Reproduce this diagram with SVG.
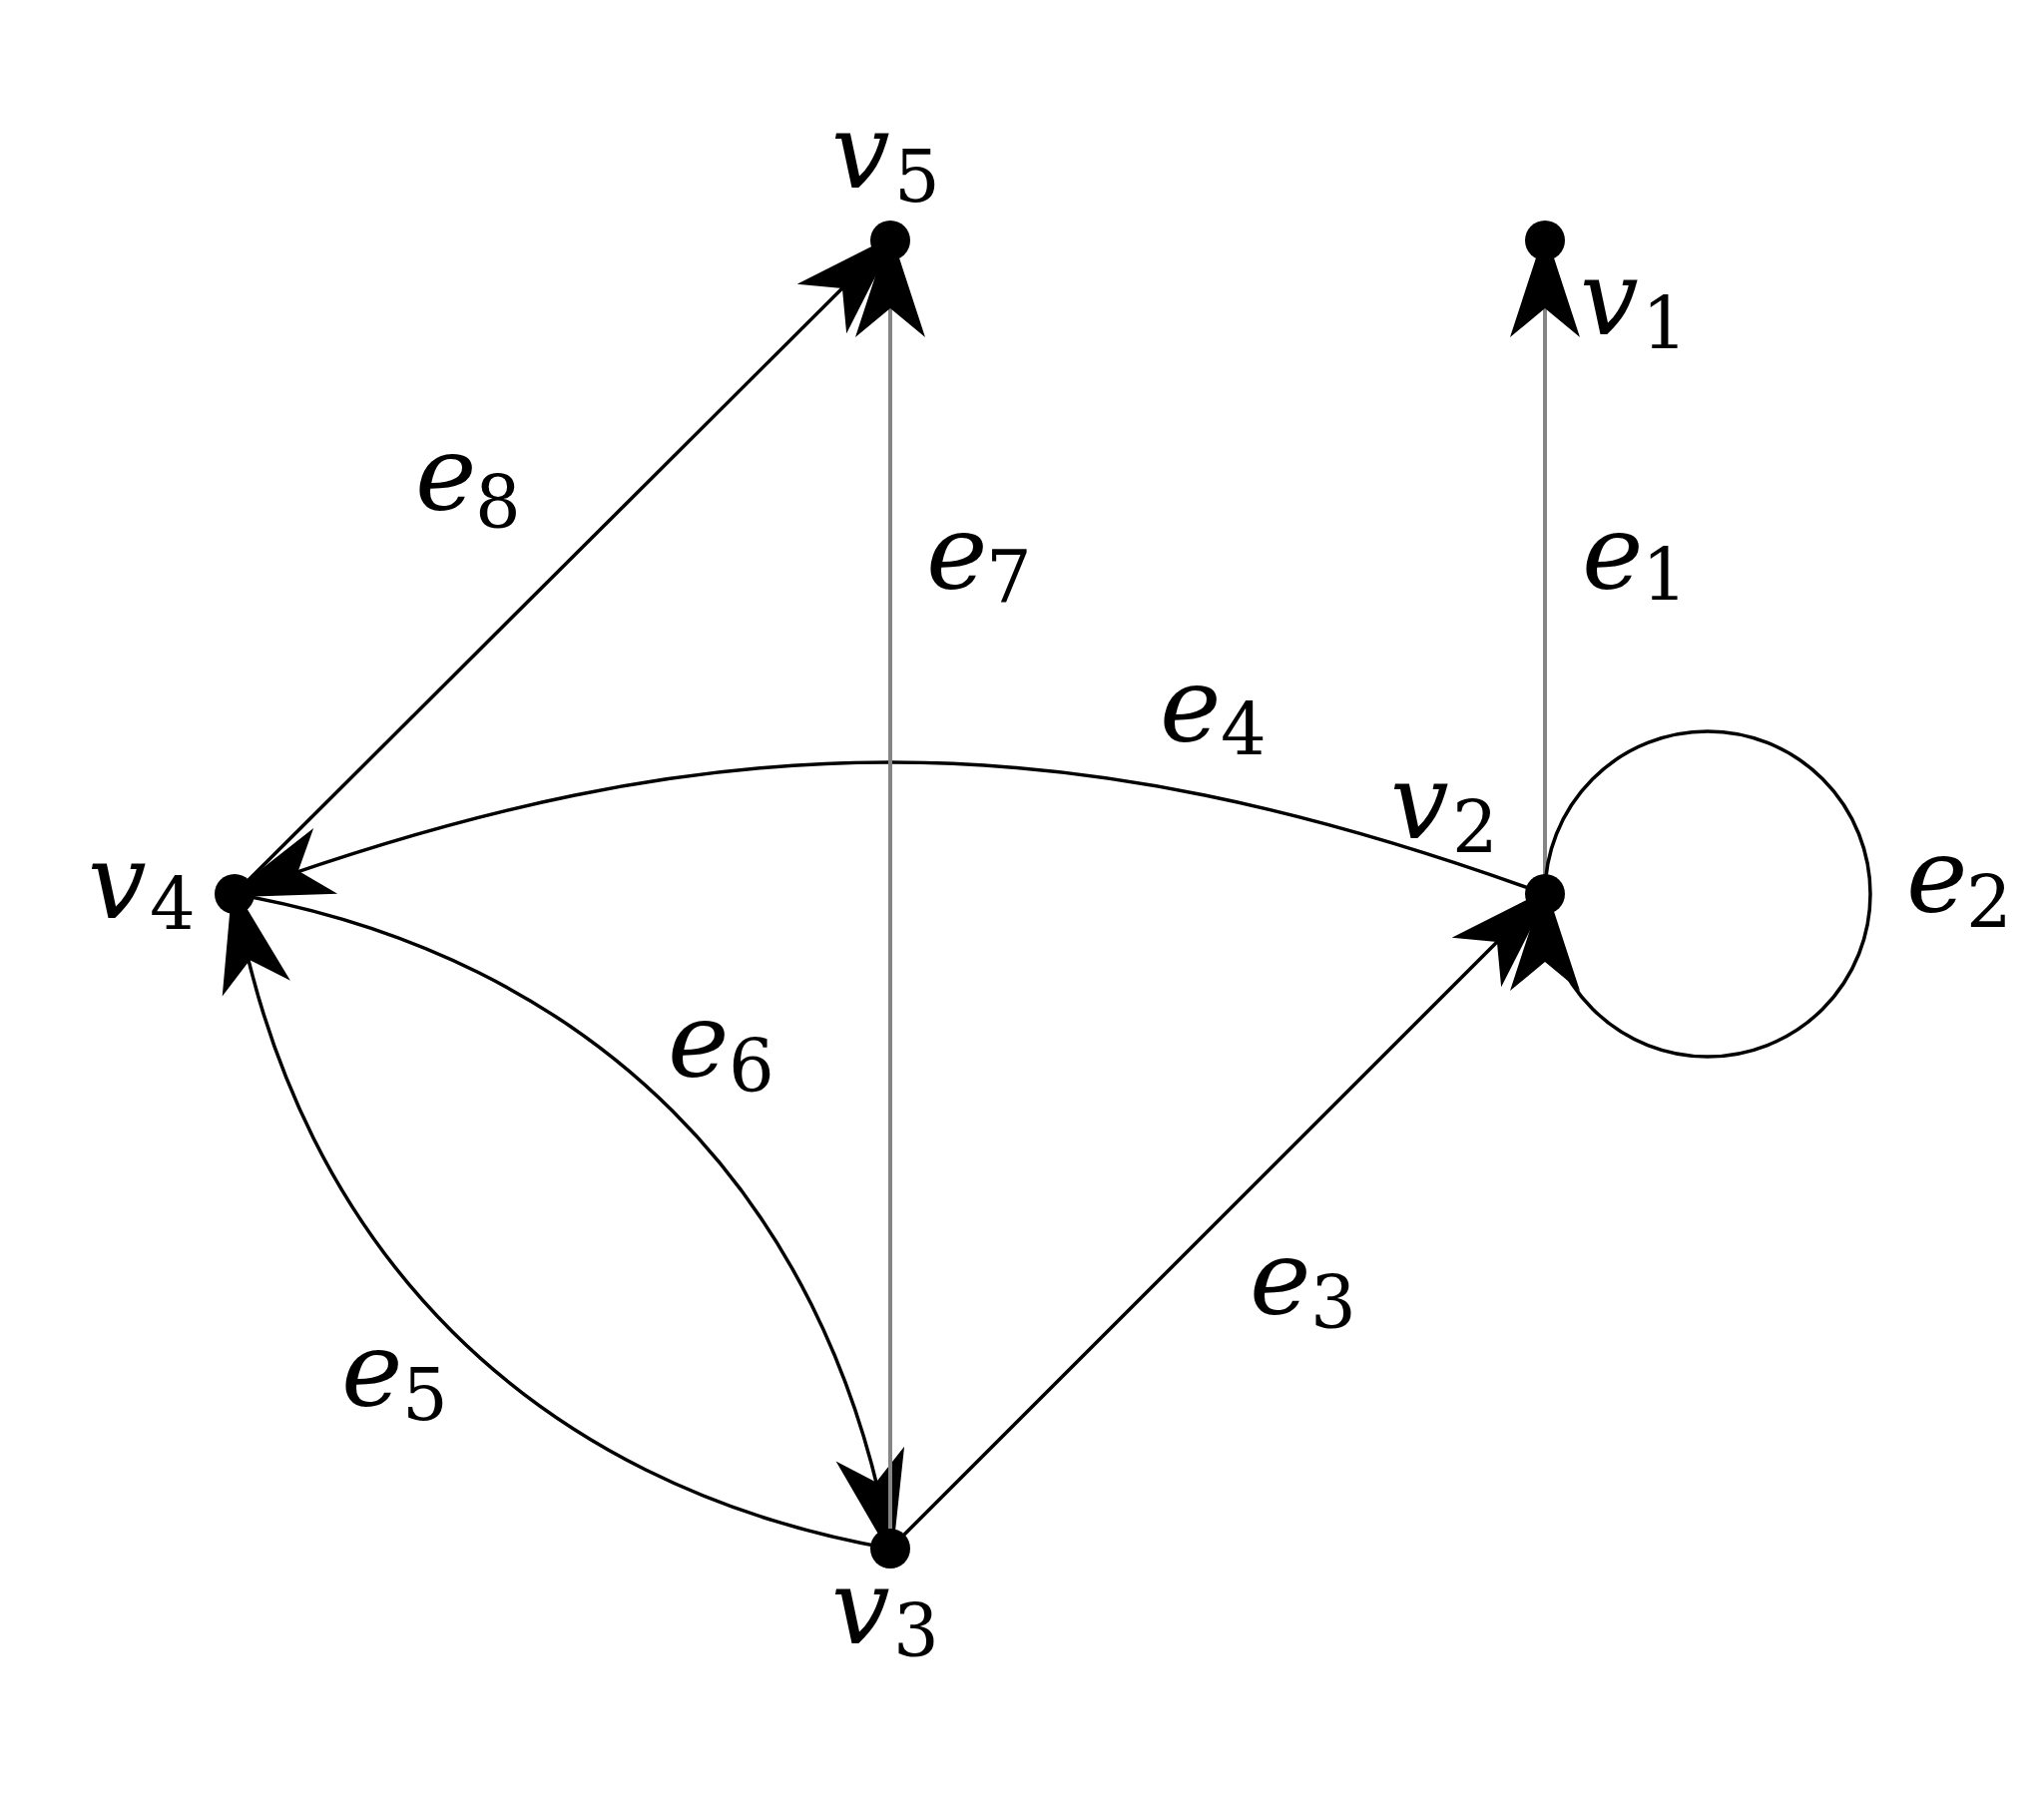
<svg xmlns="http://www.w3.org/2000/svg" width="2048" height="1800" viewBox="0 0 2048 1800">
<style>
  .edge { fill: none; stroke: #000; stroke-width: 3.5; }
  .gray { fill: none; stroke: #858585; stroke-width: 4; }
  .dot { fill: #000; }
  .ah { fill: #000; }
  .lbl { font-family: "DejaVu Serif", "Liberation Serif", serif; font-size: 104px; fill: #000; }
  .it { font-style: italic; }
  .sub { font-style: normal; font-size: 72px; }
</style>
<defs>
  <path id="ah" d="M10,0 L-97,-35 L-68,0 L-97,35 Z"/>
</defs>
<rect width="2048" height="1800" fill="#fff"/>

<g id="connectors">
  <g id="e1">
    <line class="gray" x1="1548" y1="896" x2="1548" y2="241"/>
    <use class="ah" href="#ah" transform="translate(1548,241) rotate(270)"/>
    <text class="lbl"><tspan class="it" x="1585" y="590">e</tspan><tspan class="sub" x="1645" y="602">1</tspan></text>
  </g>
  <g id="e2">
    <circle class="edge" cx="1711" cy="896" r="163"/>
    <use class="ah" href="#ah" transform="translate(1548,896) rotate(270)"/>
    <text class="lbl"><tspan class="it" x="1910" y="914">e</tspan><tspan class="sub" x="1970" y="930">2</tspan></text>
  </g>
  <g id="e3">
    <line class="edge" x1="892" y1="1552" x2="1548" y2="896"/>
    <use class="ah" href="#ah" transform="translate(1548,896) rotate(-45)"/>
    <text class="lbl"><tspan class="it" x="1252" y="1317">e</tspan><tspan class="sub" x="1313" y="1331">3</tspan></text>
  </g>
  <g id="e4">
    <path class="edge" d="M1548,896 C1065,720 718,720 235,896"/>
    <use class="ah" href="#ah" transform="translate(235,896) rotate(160)"/>
    <text class="lbl"><tspan class="it" x="1162" y="743">e</tspan><tspan class="sub" x="1223" y="757">4</tspan></text>
  </g>
  <g id="e5">
    <path class="edge" d="M892,1552 C534.5,1489 298,1253.5 235,896"/>
    <use class="ah" href="#ah" transform="translate(235,896) rotate(257)"/>
    <text class="lbl"><tspan class="it" x="342" y="1409">e</tspan><tspan class="sub" x="403" y="1423">5</tspan></text>
  </g>
  <g id="e6">
    <path class="edge" d="M235,896 C592.5,959 829,1194.5 892,1552"/>
    <use class="ah" href="#ah" transform="translate(892,1552) rotate(78)"/>
    <text class="lbl"><tspan class="it" x="669" y="1079">e</tspan><tspan class="sub" x="730" y="1094">6</tspan></text>
  </g>
  <g id="e7">
    <line class="gray" x1="892" y1="1552" x2="892" y2="241"/>
    <use class="ah" href="#ah" transform="translate(892,241) rotate(270)"/>
    <text class="lbl"><tspan class="it" x="928" y="590">e</tspan><tspan class="sub" x="988" y="603">7</tspan></text>
  </g>
  <g id="e8">
    <line class="edge" x1="235" y1="896" x2="892" y2="241"/>
    <use class="ah" href="#ah" transform="translate(892,241) rotate(-45)"/>
    <text class="lbl"><tspan class="it" x="416" y="511">e</tspan><tspan class="sub" x="476" y="529">8</tspan></text>
  </g>
</g>

<g id="v1">
  <circle class="dot" cx="1548" cy="241" r="20"/>
  <text class="lbl"><tspan class="it" x="1583" y="335">v</tspan><tspan class="sub" x="1645" y="350">1</tspan></text>
</g>
<g id="v2">
  <circle class="dot" cx="1548" cy="896" r="20"/>
  <text class="lbl"><tspan class="it" x="1393" y="840">v</tspan><tspan class="sub" x="1455" y="855">2</tspan></text>
</g>
<g id="v3">
  <circle class="dot" cx="892" cy="1552" r="20"/>
  <text class="lbl"><tspan class="it" x="833" y="1647">v</tspan><tspan class="sub" x="895" y="1660">3</tspan></text>
</g>
<g id="v4">
  <circle class="dot" cx="235" cy="896" r="20"/>
  <text class="lbl"><tspan class="it" x="88" y="920">v</tspan><tspan class="sub" x="150" y="932">4</tspan></text>
</g>
<g id="v5">
  <circle class="dot" cx="892" cy="241" r="20"/>
  <text class="lbl"><tspan class="it" x="833" y="188">v</tspan><tspan class="sub" x="896" y="202">5</tspan></text>
</g>
</svg>
